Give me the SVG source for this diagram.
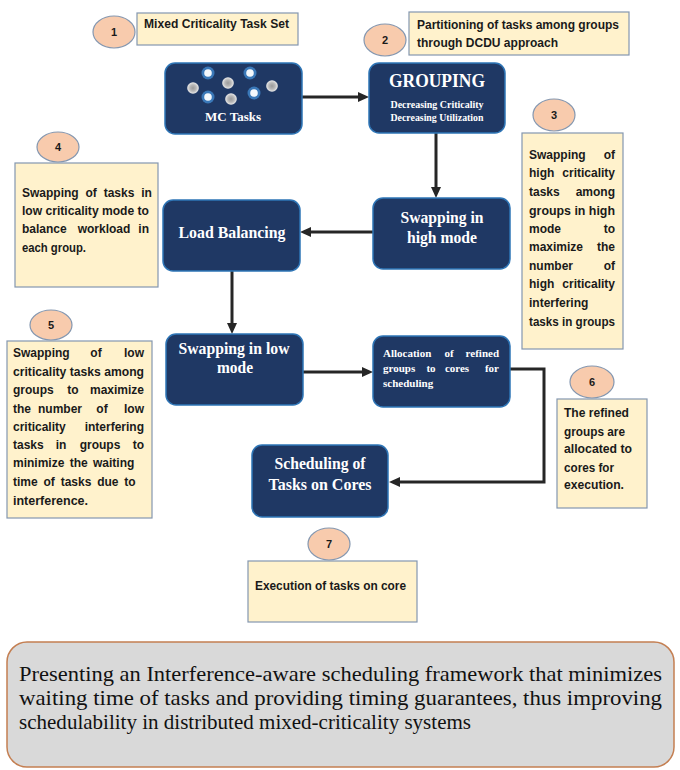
<svg xmlns="http://www.w3.org/2000/svg" width="680" height="770" viewBox="0 0 680 770">
<style>
.node rect{fill:#1f3864;stroke:#2e75b6;stroke-width:1.5}
.note{fill:#fff2cc;stroke:#8497b0;stroke-width:1.2}
.num ellipse{fill:#f8cbad;stroke:#8497b0;stroke-width:1.2}
.cal{font-family:"Liberation Sans",Arial,sans-serif;font-weight:bold;font-size:12px;fill:#1a1a1a}
.numt{font-family:"Liberation Sans",Arial,sans-serif;font-weight:bold;font-size:11px;fill:#1a1a1a;text-anchor:middle}
.nt{font-family:"Liberation Serif","Times New Roman",serif;font-weight:bold;fill:#ffffff;text-anchor:middle}
.big{font-size:16px}
.sm{font-size:10px}
.al{font-family:"Liberation Serif","Times New Roman",serif;font-weight:bold;fill:#ffffff;font-size:11px}
.conn{fill:none;stroke:#262626;stroke-width:3}
.foot{font-family:"Liberation Serif","Times New Roman",serif;font-size:21px;fill:#111111}
</style>
<defs>
<marker id="ah" markerUnits="userSpaceOnUse" markerWidth="11" markerHeight="11" refX="0" refY="5" orient="auto">
<path d="M0,0 L11,5 L0,10 z" fill="#262626"/>
</marker>
<radialGradient id="gd">
<stop offset="0" stop-color="#9a9a9a"/>
<stop offset="0.55" stop-color="#b8b8b8"/>
<stop offset="1" stop-color="#ececec"/>
</radialGradient>
<g id="bdot"><circle r="6.5" fill="#3a78b8"/><circle r="3.8" fill="#f4f8fc"/></g>
<g id="gdot"><circle r="5.8" fill="url(#gd)"/></g>
</defs>

<g id="connectors">
<path class="conn" d="M302,97 L358,97" marker-end="url(#ah)"/>
<path class="conn" d="M436,133 L436,187" marker-end="url(#ah)"/>
<path class="conn" d="M373,232 L311,232" marker-end="url(#ah)"/>
<path class="conn" d="M232,271 L232,323" marker-end="url(#ah)"/>
<path class="conn" d="M303,372 L362,372" marker-end="url(#ah)"/>
<path class="conn" d="M510,369 L544,369 L544,482 L400,482" marker-end="url(#ah)"/>
</g>

<g id="n1-mctasks" class="node">
<rect x="165" y="63" width="137" height="71" rx="10"/>
<use href="#bdot" x="208" y="73"/>
<use href="#bdot" x="250" y="73"/>
<use href="#bdot" x="254" y="93"/>
<use href="#bdot" x="208" y="97"/>
<use href="#gdot" x="193" y="88"/>
<use href="#gdot" x="228" y="83"/>
<use href="#gdot" x="231" y="99"/>
<use href="#gdot" x="272" y="86"/>
<text class="nt" x="233" y="121" font-size="13" textLength="56" lengthAdjust="spacingAndGlyphs">MC Tasks</text>
</g>

<g id="n2-grouping" class="node">
<rect x="369" y="63" width="136" height="70" rx="10"/>
<text class="nt" x="437" y="87" font-size="18" textLength="96" lengthAdjust="spacingAndGlyphs">GROUPING</text>
<text class="nt sm" x="437" y="108" textLength="93" lengthAdjust="spacingAndGlyphs">Decreasing Criticality</text>
<text class="nt sm" x="437" y="121" textLength="93" lengthAdjust="spacingAndGlyphs">Decreasing Utilization</text>
</g>

<g id="n3-high" class="node">
<rect x="373" y="198" width="137" height="71" rx="10"/>
<text class="nt big" x="442" y="223" textLength="83" lengthAdjust="spacingAndGlyphs">Swapping in</text>
<text class="nt big" x="442" y="243" textLength="70" lengthAdjust="spacingAndGlyphs">high mode</text>
</g>

<g id="n4-loadbalancing" class="node">
<rect x="163" y="200" width="137" height="71" rx="10"/>
<text class="nt big" x="232" y="238" textLength="107" lengthAdjust="spacingAndGlyphs">Load Balancing</text>
</g>

<g id="n5-low" class="node">
<rect x="166" y="334" width="137" height="71" rx="10"/>
<text class="nt big" x="234" y="354" textLength="111" lengthAdjust="spacingAndGlyphs">Swapping in low</text>
<text class="nt big" x="235" y="373" textLength="36" lengthAdjust="spacingAndGlyphs">mode</text>
</g>

<g id="n6-allocation" class="node">
<rect x="373" y="336" width="137" height="71" rx="10"/>
<text class="al" x="383" y="357">Allocation</text>
<text class="al" x="449" y="357" text-anchor="middle">of</text>
<text class="al" x="499" y="357" text-anchor="end">refined</text>
<text class="al" x="383" y="372">groups</text>
<text class="al" x="431" y="372" text-anchor="middle">to</text>
<text class="al" x="457" y="372" text-anchor="middle">cores</text>
<text class="al" x="499" y="372" text-anchor="end">for</text>
<text class="al" x="383" y="387">scheduling</text>
</g>

<g id="n7-scheduling" class="node">
<rect x="252" y="445" width="136" height="72" rx="10"/>
<text class="nt big" x="320" y="469" textLength="91" lengthAdjust="spacingAndGlyphs">Scheduling of</text>
<text class="nt big" x="320" y="490" textLength="103" lengthAdjust="spacingAndGlyphs">Tasks on Cores</text>
</g>

<g id="c1">
<g class="num"><ellipse cx="114" cy="32" rx="21" ry="16"/></g>
<text class="numt" x="114" y="36">1</text>
<rect class="note" x="137" y="13" width="161" height="32"/>
<text class="cal" x="144" y="28" textLength="145" lengthAdjust="spacingAndGlyphs">Mixed Criticality Task Set</text>
</g>

<g id="c2">
<g class="num"><ellipse cx="385" cy="40" rx="21" ry="16"/></g>
<text class="numt" x="385" y="44">2</text>
<rect class="note" x="409" y="12" width="220" height="43"/>
<text class="cal" x="417" y="29" textLength="202" lengthAdjust="spacingAndGlyphs">Partitioning of tasks among groups</text>
<text class="cal" x="417" y="47" textLength="141" lengthAdjust="spacingAndGlyphs">through DCDU approach</text>
</g>

<g id="c3">
<g class="num"><ellipse cx="554" cy="115" rx="21" ry="16"/></g>
<text class="numt" x="554" y="119">3</text>
<rect class="note" x="522" y="133" width="101" height="216"/>
<text class="cal" x="529" y="159">Swapping</text><text class="cal" x="615" y="159" text-anchor="end">of</text>
<text class="cal" x="529" y="177">high</text><text class="cal" x="615" y="177" text-anchor="end">criticality</text>
<text class="cal" x="529" y="196">tasks</text><text class="cal" x="615" y="196" text-anchor="end">among</text>
<text class="cal" x="529" y="215" textLength="86" lengthAdjust="spacingAndGlyphs">groups in high</text>
<text class="cal" x="529" y="233">mode</text><text class="cal" x="615" y="233" text-anchor="end">to</text>
<text class="cal" x="529" y="251">maximize</text><text class="cal" x="615" y="251" text-anchor="end">the</text>
<text class="cal" x="529" y="270">number</text><text class="cal" x="615" y="270" text-anchor="end">of</text>
<text class="cal" x="529" y="288">high</text><text class="cal" x="615" y="288" text-anchor="end">criticality</text>
<text class="cal" x="529" y="307">interfering</text>
<text class="cal" x="529" y="326" textLength="86" lengthAdjust="spacingAndGlyphs">tasks in groups</text>
</g>

<g id="c4">
<g class="num"><ellipse cx="58" cy="147" rx="21" ry="15"/></g>
<text class="numt" x="58" y="151">4</text>
<rect class="note" x="15" y="163" width="143" height="124"/>
<text class="cal" x="22" y="197" word-spacing="3.5">Swapping of tasks in</text>
<text class="cal" x="22" y="215" textLength="127" lengthAdjust="spacingAndGlyphs">low criticality mode to</text>
<text class="cal" x="22" y="233">balance</text><text class="cal" x="104" y="233" text-anchor="middle">workload</text><text class="cal" x="149" y="233" text-anchor="end">in</text>
<text class="cal" x="22" y="252" textLength="64" lengthAdjust="spacingAndGlyphs">each group.</text>
</g>

<g id="c5">
<g class="num"><ellipse cx="51" cy="325" rx="21" ry="15"/></g>
<text class="numt" x="51" y="329">5</text>
<rect class="note" x="7" y="341" width="145" height="177"/>
<text class="cal" x="13" y="357">Swapping</text><text class="cal" x="96" y="357" text-anchor="middle">of</text><text class="cal" x="144" y="357" text-anchor="end">low</text>
<text class="cal" x="13" y="376" textLength="131" lengthAdjust="spacingAndGlyphs">criticality tasks among</text>
<text class="cal" x="13" y="394">groups</text><text class="cal" x="73" y="394" text-anchor="middle">to</text><text class="cal" x="144" y="394" text-anchor="end">maximize</text>
<text class="cal" x="13" y="413">the</text><text class="cal" x="60" y="413" text-anchor="middle">number</text><text class="cal" x="102" y="413" text-anchor="middle">of</text><text class="cal" x="144" y="413" text-anchor="end">low</text>
<text class="cal" x="13" y="431">criticality</text><text class="cal" x="144" y="431" text-anchor="end">interfering</text>
<text class="cal" x="13" y="449">tasks</text><text class="cal" x="61" y="449" text-anchor="middle">in</text><text class="cal" x="100" y="449" text-anchor="middle">groups</text><text class="cal" x="144" y="449" text-anchor="end">to</text>
<text class="cal" x="13" y="467" word-spacing="2">minimize the waiting</text>
<text class="cal" x="13" y="486" word-spacing="2.5">time of tasks due to</text>
<text class="cal" x="13" y="505" textLength="75" lengthAdjust="spacingAndGlyphs">interference.</text>
</g>

<g id="c6">
<g class="num"><ellipse cx="592" cy="382" rx="22" ry="16"/></g>
<text class="numt" x="592" y="386">6</text>
<rect class="note" x="557" y="399" width="90" height="109"/>
<text class="cal" x="564" y="417" textLength="65" lengthAdjust="spacingAndGlyphs">The refined</text>
<text class="cal" x="564" y="436" textLength="61" lengthAdjust="spacingAndGlyphs">groups are</text>
<text class="cal" x="564" y="453" textLength="68" lengthAdjust="spacingAndGlyphs">allocated to</text>
<text class="cal" x="564" y="472" textLength="50" lengthAdjust="spacingAndGlyphs">cores for</text>
<text class="cal" x="564" y="489" textLength="60" lengthAdjust="spacingAndGlyphs">execution.</text>
</g>

<g id="c7">
<g class="num"><ellipse cx="329" cy="544" rx="21" ry="16"/></g>
<text class="numt" x="329" y="548">7</text>
<rect class="note" x="248" y="561" width="169" height="61"/>
<text class="cal" x="255" y="590" textLength="151" lengthAdjust="spacingAndGlyphs">Execution of tasks on core</text>
</g>

<g id="summary">
<rect x="7" y="642" width="667" height="125" rx="20" fill="#d9d9d9" stroke="#c47f52" stroke-width="1.5"/>
<text class="foot" x="19" y="681" textLength="643" lengthAdjust="spacingAndGlyphs">Presenting an Interference-aware scheduling framework that minimizes</text>
<text class="foot" x="19" y="705" textLength="643" lengthAdjust="spacingAndGlyphs">waiting time of tasks and providing timing guarantees, thus improving</text>
<text class="foot" x="19" y="729" textLength="452" lengthAdjust="spacingAndGlyphs">schedulability in distributed mixed-criticality systems</text>
</g>
</svg>
